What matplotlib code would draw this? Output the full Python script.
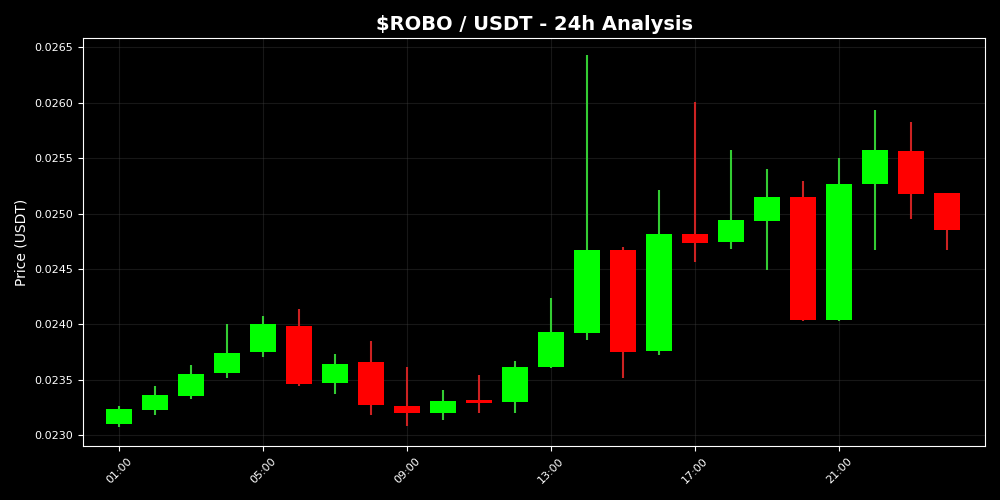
import matplotlib
matplotlib.use('Agg')
import matplotlib.pyplot as plt
import matplotlib.dates as mdates
import numpy as np
import pandas as pd

# Data (hourly candles)
times = pd.date_range('2024-01-01 01:00', periods=24, freq='h')
opens = [0.02310, 0.02323, 0.02335, 0.02356, 0.02375, 0.02399, 0.02347, 0.02366,
         0.02326, 0.02320, 0.02332, 0.02330, 0.02362, 0.02392, 0.02467, 0.02376,
         0.02482, 0.02474, 0.02493, 0.02515, 0.02404, 0.02527, 0.02556, 0.02519]
closes = [0.02324, 0.02336, 0.02355, 0.02374, 0.02400, 0.02346, 0.02364, 0.02327,
          0.02320, 0.02331, 0.02329, 0.02362, 0.02393, 0.02467, 0.02375, 0.02482,
          0.02473, 0.02494, 0.02515, 0.02404, 0.02527, 0.02557, 0.02518, 0.02485]
highs = [0.02326, 0.02344, 0.02363, 0.02400, 0.02408, 0.02414, 0.02373, 0.02385,
         0.02362, 0.02341, 0.02354, 0.02367, 0.02424, 0.02643, 0.02470, 0.02521,
         0.02601, 0.02557, 0.02540, 0.02529, 0.02550, 0.02593, 0.02583, 0.02519]
lows = [0.02307, 0.02318, 0.02333, 0.02352, 0.02371, 0.02344, 0.02337, 0.02318,
        0.02308, 0.02314, 0.02320, 0.02320, 0.02361, 0.02386, 0.02352, 0.02372,
        0.02456, 0.02468, 0.02449, 0.02403, 0.02403, 0.02467, 0.02495, 0.02467]

up_color = '#00ff00'
down_color = '#ff0000'
up_wick = '#33cc33'
down_wick = '#cc2222'

fig = plt.figure(figsize=(10, 5), dpi=100, facecolor='black')
ax = fig.add_axes([0.083, 0.108, 0.902, 0.816])
ax.set_facecolor('black')

x = mdates.date2num(times)
width = 0.03
for xi, o, c, h, l in zip(x, opens, closes, highs, lows):
    up = c >= o
    ax.vlines(xi, l, h, color=up_wick if up else down_wick, linewidth=1.5, zorder=2)
    ax.bar(xi, abs(c - o), width, bottom=min(o, c),
           color=up_color if up else down_color, zorder=3)

ax.set_xlim(x[0] - 1.0 / 24, x[-1] + 1.06 / 24)
ax.set_ylim(0.022903, 0.026584)

ax.set_xticks(x[::4])
ax.xaxis.set_major_formatter(mdates.DateFormatter('%H:%M'))
plt.setp(ax.get_xticklabels(), rotation=45)

ax.grid(True, color='#444444', alpha=0.35, linewidth=0.8)
ax.set_axisbelow(True)
for s in ax.spines.values():
    s.set_color('white')
ax.tick_params(colors='white', labelsize=8)

ax.set_ylabel('Price (USDT)', color='white', fontsize=10)
ax.set_title('$ROBO / USDT - 24h Analysis', color='white', fontsize=14, fontweight='bold')

fig.savefig('out.png', facecolor='black')
